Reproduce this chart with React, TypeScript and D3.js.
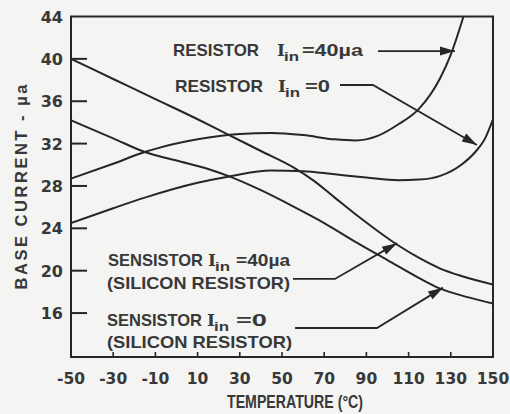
import React from "react";
import * as d3 from "d3";

// ---- data ----
const r40Temp = [-50, -30, -15, -10, 10, 30, 45, 60, 75, 85, 95, 105, 115, 125, 130, 136];
const r40Base = [28.7, 30.1, 31.2, 31.5, 32.4, 32.9, 33.0, 32.8, 32.4, 32.3, 32.7, 33.8, 35.3, 38.2, 40.4, 44.0];

const r0Temp = [-50, -30, -15, 10, 25, 45, 60, 75, 90, 105, 115, 125, 135, 142, 146, 150];
const r0Base = [24.5, 25.9, 26.9, 28.3, 28.9, 29.45, 29.4, 29.1, 28.8, 28.55, 28.6, 28.95, 30.0, 31.3, 32.4, 34.3];

const s40Temp = [-50, -30, -10, 10, 24, 40, 55, 65, 75, 85, 95, 105, 115, 125, 135, 150];
const s40Base = [40.0, 38.1, 36.2, 34.3, 32.9, 31.3, 29.8, 28.5, 26.9, 25.3, 23.8, 22.4, 21.2, 20.2, 19.5, 18.7];

const s0Temp = [-50, -30, -15, 0, 15, 25, 40, 55, 70, 85, 100, 115, 125, 138, 150];
const s0Base = [34.2, 32.5, 31.2, 30.4, 29.6, 28.9, 27.6, 26.1, 24.5, 22.7, 21.0, 19.3, 18.3, 17.5, 16.9];

const xTicks = [-50, -30, -10, 10, 30, 50, 70, 90, 110, 130, 150];
const xTickLabels = ["-50", "-30", "-10", "10", "30", "50", "70", "90", "110", "130", "150"];
const yTicks = [16, 20, 24, 28, 32, 36, 40, 44];
const yTickLabels = ["16", "20", "24", "28", "32", "36", "40", "44"];

// leader arrows in data units [temperature, base current]
const arrowR40 = [[95.5, 40.74], [132.0, 40.74]];
const arrowR0 = [[77.5, 37.53], [93.1, 37.53], [142.4, 31.87]];
const arrowS40 = [[55.2, 19.22], [75.1, 19.22], [104.5, 22.6]];
const arrowS0 = [[56.2, 14.59], [95.0, 14.59], [126.3, 18.4]];

const INK = "#262626";
const TXT = "#383838";
const SANS = "'Liberation Sans', Arial, sans-serif";
const NUM = "'DejaVu Sans', sans-serif";
const SERIF = "'DejaVu Serif', 'Liberation Serif', serif";

function Label({ x, y, main, mainLen, sub, rest, restLen, iX, subX, restX }: any) {
  return (
    <g fill={TXT} fontFamily={SANS} fontWeight={700}>
      <text x={x} y={y} fontSize={17} textLength={mainLen} lengthAdjust="spacingAndGlyphs">{main}</text>
      <text x={iX} y={y} fontSize={17} fontFamily={SERIF}>I</text>
      <text x={subX} y={y + 5} fontSize={13.5} textLength={15} lengthAdjust="spacingAndGlyphs">{sub}</text>
      <text x={restX} y={y} fontSize={17} textLength={restLen} lengthAdjust="spacingAndGlyphs">{rest}</text>
    </g>
  );
}

export default function App() {
  const W = 510, H = 414;
  const x = d3.scaleLinear().domain([-50, 150]).range([71, 493]);
  const y = d3.scaleLinear().domain([11.85, 44]).range([357, 16.5]);
  const [x0, x1] = x.range();
  const [yb, yt] = y.range();

  const line = d3
    .line<[number, number]>()
    .x((d) => x(d[0]))
    .y((d) => y(d[1]))
    .curve(d3.curveMonotoneX);

  const series = [
    [r40Temp, r40Base],
    [r0Temp, r0Base],
    [s40Temp, s40Base],
    [s0Temp, s0Base],
  ].map(([t, v]) => t.map((tt, i) => [tt, v[i]] as [number, number]));

  const arrows = [arrowR40, arrowR0, arrowS40, arrowS0];
  const poly = d3.line<number[]>().x((d) => x(d[0])).y((d) => y(d[1]));

  const head = (pts: number[][]) => {
    const a = pts[pts.length - 2];
    const b = pts[pts.length - 1];
    const ax = x(a[0]), ay = y(a[1]), bx = x(b[0]), by = y(b[1]);
    const dx = bx - ax, dy = by - ay;
    const L = Math.hypot(dx, dy);
    const ux = dx / L, uy = dy / L;
    const len = 15, hw = 4.5;
    const cx = bx - ux * len, cy = by - uy * len;
    return `M${bx},${by}L${cx - uy * hw},${cy + ux * hw}L${cx + uy * hw},${cy - ux * hw}Z`;
  };

  return (
    <svg width={W} height={H} style={{ position: "absolute", left: 0, top: 0, background: "#f4f4f3" }}>
      <rect x={0} y={0} width={W} height={H} fill="#f4f4f3" />
      <defs>
        <clipPath id="plot">
          <rect x={x0} y={yt} width={x1 - x0} height={yb - yt} />
        </clipPath>
      </defs>

      {/* frame */}
      <rect x={x0} y={yt} width={x1 - x0} height={yb - yt} fill="none" stroke={INK} strokeWidth={2} />

      {/* y ticks */}
      {yTicks.map((t, i) => (
        <g key={"y" + t}>
          {t < 44 && <line x1={x0} x2={x0 + 16} y1={y(t)} y2={y(t)} stroke={INK} strokeWidth={2} />}
          <text x={63} y={y(t) + 6} textAnchor="end" fontFamily={NUM} fontWeight={700} fontSize={16} fill={TXT}>
            {yTickLabels[i]}
          </text>
        </g>
      ))}

      {/* x ticks */}
      {xTicks.map((t, i) => (
        <g key={"x" + t}>
          {t > -50 && t < 150 && <line x1={x(t)} x2={x(t)} y1={yb} y2={yb - 5} stroke={INK} strokeWidth={1.6} />}
          <text x={x(t)} y={384} textAnchor="middle" fontFamily={NUM} fontWeight={700} fontSize={15.5} fill={TXT}>
            {xTickLabels[i]}
          </text>
        </g>
      ))}

      {/* axis titles */}
      <text x={295} y={408} textAnchor="middle" fontFamily={SANS} fontWeight={700} fontSize={18} fill={TXT}
        textLength={136} lengthAdjust="spacingAndGlyphs">
        TEMPERATURE (°C)
      </text>
      <text transform="translate(27,187) rotate(-90)" textAnchor="middle" fontFamily={SANS} fontWeight={700}
        fontSize={16.5} fill={TXT} textLength={205} lengthAdjust="spacing">
        BASE  CURRENT - µa
      </text>

      {/* curves */}
      <g clipPath="url(#plot)">
        {series.map((s, i) => (
          <path key={i} d={line(s) || ""} fill="none" stroke={INK} strokeWidth={2} />
        ))}
      </g>

      {/* leader arrows */}
      {arrows.map((a, i) => (
        <g key={"a" + i}>
          <path d={poly(a) || ""} fill="none" stroke={INK} strokeWidth={1.8} />
          <path d={head(a)} fill={INK} />
        </g>
      ))}

      {/* labels */}
      <Label x={173} y={56} main="RESISTOR" mainLen={86} iX={277} subX={284} sub="in" restX={302} rest="=40µa" restLen={61} />
      <Label x={175} y={92} main="RESISTOR" mainLen={88} iX={278} subX={285} sub="in" restX={305} rest="=0" restLen={25} />
      <Label x={108} y={266} main="SENSISTOR" mainLen={95} iX={208} subX={215} sub="in" restX={236} rest="=40µa" restLen={54} />
      <text x={107} y={289} fontFamily={SANS} fontWeight={700} fontSize={17} fill={TXT} textLength={183} lengthAdjust="spacingAndGlyphs">
        (SILICON RESISTOR)
      </text>
      <Label x={107} y={326} main="SENSISTOR" mainLen={95} iX={207} subX={214} sub="in" restX={236} rest="=0" restLen={31} />
      <text x={107} y={348} fontFamily={SANS} fontWeight={700} fontSize={17} fill={TXT} textLength={185} lengthAdjust="spacingAndGlyphs">
        (SILICON RESISTOR)
      </text>
    </svg>
  );
}
